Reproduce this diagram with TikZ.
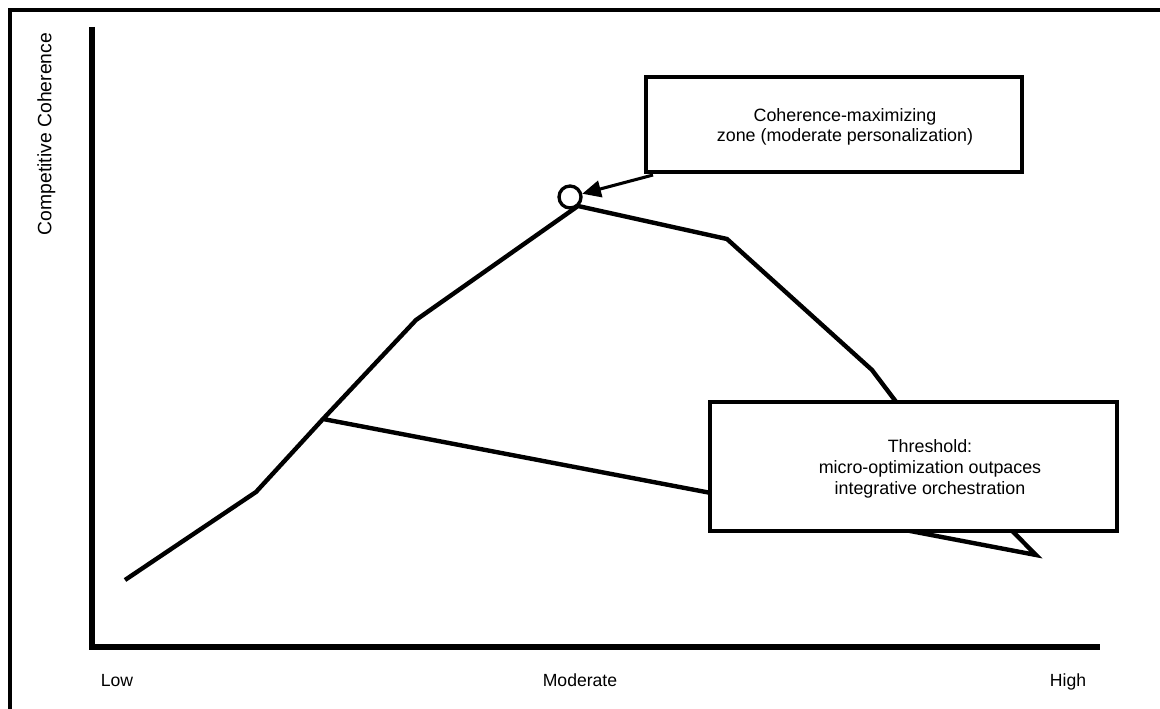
\documentclass[tikz,border=0pt]{standalone}
\usepackage{fontspec}
\setmainfont{Liberation Sans}
\usetikzlibrary{arrows.meta,calc}
\begin{document}
\begin{tikzpicture}[x=0.75pt,y=-0.75pt,
  frame/.style={line width=2.5pt},
  axis/.style={line width=4pt, line join=miter},
  curve/.style={line width=3.3pt, line join=miter},
  box/.style={draw, line width=3pt, fill=white, inner sep=0pt},
  txt/.style={font=\fontsize{13.4}{15.5}\selectfont, align=center, inner sep=0pt},
  ticklbl/.style={font=\fontsize{13.2}{15.5}\selectfont, inner sep=0pt, anchor=base},
  ylbl/.style={font=\fontsize{14.5}{17}\selectfont, inner sep=0pt, rotate=90},
  marker/.style={circle, draw, fill=white, line width=2.5pt, minimum size=16.5pt, inner sep=0pt},
  pointer/.style={line width=2.3pt, -{Triangle[length=14pt,width=12.5pt]}}]
\useasboundingbox (0,0) rectangle (1160,709);
\fill[white] (0,0) rectangle (1160,709);
% frame (clipped at right and bottom)
\draw[frame] (10,709) -- (10,10) -- (1160,10);
% axes
\draw[axis] (92,27) -- (92,647) -- (1100,647);
% axis labels
\node[ylbl] (ylab) at (46.5,134) {Competitive Coherence};
\node[ticklbl] (low) at (117,686) {Low};
\node[ticklbl] (mod) at (580,686) {Moderate};
\node[ticklbl] (high) at (1068,686) {High};
% curve
\coordinate (p1) at (125,580);
\coordinate (p2) at (256,492);
\coordinate (p3) at (323,419);
\coordinate (p4) at (416,320);
\coordinate (p5) at (578,206);
\coordinate (p6) at (727,239);
\coordinate (p7) at (872,370);
\coordinate (p8) at (934,452);
\coordinate (p9) at (1036,555);
\draw[curve] (p1) -- (p2) -- (p3) -- (p4) -- (p5) -- (p6) -- (p7) -- (p8) -- (p9) -- (p3);
% peak marker
\node[marker] (peak) at (570,197) {};
% upper box
\node[box, minimum width=376*0.75pt, minimum height=95*0.75pt] (zone) at (834,124.5) {};
\node[txt] (zonetxt) at (845,127) {Coherence-maximizing\\zone (moderate personalization)};
\draw[pointer] ($(zone.south west)+(9,1)$) -- (peak);
% lower box
\node[box, minimum width=407*0.75pt, minimum height=129*0.75pt] (thr) at (913.5,466.5) {};
\node[txt] (thrtxt) at (930,469) {Threshold:\\micro-optimization outpaces\\integrative orchestration};
\end{tikzpicture}
\end{document}
